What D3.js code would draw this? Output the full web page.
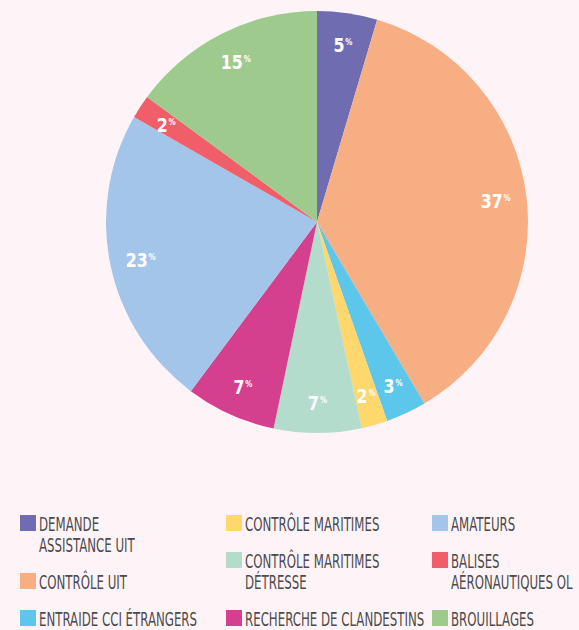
<!DOCTYPE html>
<html>
<head>
<meta charset="utf-8">
<script src="https://cdn.jsdelivr.net/npm/d3@7"></script>
<style>
html,body{margin:0;padding:0;background:#fef4f7;}
svg{display:block;}
</style>
</head>
<body>
<svg id="chart" width="579" height="630"></svg>
<script>
const categories = [
  "DEMANDE ASSISTANCE UIT",
  "CONTRÔLE UIT",
  "ENTRAIDE CCI ÉTRANGERS",
  "CONTRÔLE MARITIMES",
  "CONTRÔLE MARITIMES DÉTRESSE",
  "RECHERCHE DE CLANDESTINS",
  "AMATEURS",
  "BALISES AÉRONAUTIQUES OL",
  "BROUILLAGES"
];
const legendLines = [
  ["DEMANDE", "ASSISTANCE UIT"],
  ["CONTRÔLE UIT"],
  ["ENTRAIDE CCI ÉTRANGERS"],
  ["CONTRÔLE MARITIMES"],
  ["CONTRÔLE MARITIMES", "DÉTRESSE"],
  ["RECHERCHE DE CLANDESTINS"],
  ["AMATEURS"],
  ["BALISES", "AÉRONAUTIQUES OL"],
  ["BROUILLAGES"]
];
const values = [4.6, 36.9, 3.1, 2.0, 6.7, 6.9, 23.1, 1.8, 14.9];
const valueLabels = ["5", "37", "3", "2", "7", "7", "23", "2", "15"];
const colors = ["#6f6cb1", "#f8ae83", "#5cc6eb", "#fed86c", "#b3dccc", "#d4408e", "#a3c5e9", "#ef5e69", "#9ecb8d"];

const svg = d3.select("#chart");
const cx = 317, cy = 222, R = 211, labelR = 180;

const color = d3.scaleOrdinal().domain(categories).range(colors);
const pie = d3.pie().sort(null).value(d => d.value);
const data = categories.map((c, i) => ({cat: c, value: values[i], label: valueLabels[i]}));
const arcs = pie(data);
const arc = d3.arc().innerRadius(0).outerRadius(R);
const labelArc = d3.arc().innerRadius(labelR).outerRadius(labelR);

const g = svg.append("g").attr("transform", `translate(${cx},${cy})`);
g.selectAll("path").data(arcs).join("path")
  .attr("d", arc)
  .attr("fill", d => color(d.data.cat));

const fontFam = "'Liberation Sans Narrow','DejaVu Sans Condensed','Arial Narrow',sans-serif";
const lab = g.selectAll("text.v").data(arcs).join("text")
  .attr("class", "v")
  .attr("transform", d => `translate(${labelArc.centroid(d)}) scale(0.88,1)`)
  .attr("text-anchor", "middle")
  .attr("dy", "0.4em")
  .attr("fill", "#ffffff")
  .attr("font-family", fontFam)
  .attr("font-weight", "bold")
  .attr("font-size", 20);
lab.append("tspan").text(d => d.data.label);
lab.append("tspan").text("%").attr("font-size", 9).attr("dy", -7).attr("dx", 1);

// Legend
const colX = [20, 226, 432];
const perCol = 3;
const legend = svg.append("g").attr("font-family", fontFam);
const colY = [515, 515, 515];
categories.forEach((c, i) => {
  const col = Math.floor(i / perCol);
  const x = colX[col], y = colY[col];
  const item = legend.append("g").attr("transform", `translate(${x},${y})`);
  item.append("rect").attr("width", 16).attr("height", 16).attr("fill", color(c));
  const t = item.append("text").attr("fill", "#4d4a4c").attr("font-size", 19)
    .attr("transform", "translate(19,16) scale(0.69,1)");
  legendLines[i].forEach((ln, k) => {
    t.append("tspan").attr("x", 0).attr("y", k * 21).text(ln);
  });
  colY[col] = y + 16 + 21 * legendLines[i].length;
});
</script>
</body>
</html>
